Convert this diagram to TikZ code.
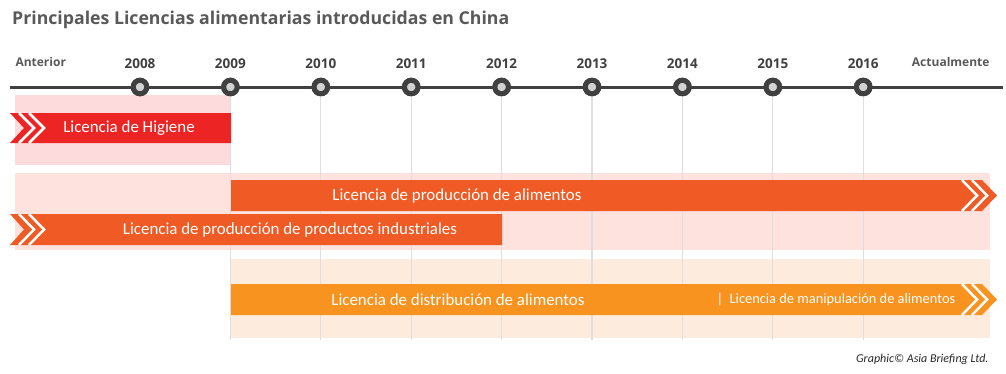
\documentclass[tikz,border=0pt]{standalone}
\usepackage{fontspec}
\setmainfont{Carlito}
\newfontfamily\headfont{Open Sans}
\definecolor{lineGray}{RGB}{64,64,64}
\definecolor{dotGray}{RGB}{210,210,210}
\definecolor{gridGray}{RGB}{222,222,222}
\definecolor{titleGray}{RGB}{89,89,89}
\definecolor{hygRed}{RGB}{237,36,36}
\definecolor{prodOrange}{RGB}{240,90,36}
\definecolor{distOrange}{RGB}{247,147,30}
\definecolor{bandA}{RGB}{253,219,221}
\definecolor{bandB}{RGB}{253,226,222}
\definecolor{bandC}{RGB}{253,236,221}

\begin{document}
\begin{tikzpicture}[x=1pt,y=-1pt,
  yearmark/.style={circle,draw=lineGray,line width=5pt,fill=dotGray,
    inner sep=0pt,minimum size=13.5pt},
  yearlab/.style={font=\headfont\bfseries\fontsize{13.5}{15}\selectfont,
    text=lineGray,anchor=base},
  endlab/.style={font=\headfont\bfseries\fontsize{12}{14}\selectfont,
    text=titleGray,anchor=base west},
  barlab/.style={font=\fontsize{16.9}{19}\selectfont,text=white},
  cut/.style={white,line width=2.5pt}]
  \useasboundingbox (0,0) rectangle (1006,373);

  % title
  \node[font=\headfont\bfseries\fontsize{17.7}{20}\selectfont,text=titleGray,
    anchor=base west,inner sep=0pt] (title) at (12,24)
    {Principales Licencias alimentarias introducidas en China};

  % background bands
  \fill[bandA] (15,95) rectangle (231,165);
  \fill[bandB] (15,173) rectangle (990,250);
  \fill[bandC] (231,259) rectangle (990,338);

  % timeline
  \coordinate (tl0) at (10,87);
  \coordinate (tl1) at (1003,87);
  \draw[lineGray,line width=3pt] (tl0) -- (tl1);
  \foreach \yr [count=\i from 0] in {2008,...,2016}{
    \node[yearmark] (c\yr) at (140+90.4*\i,87) {};
    \node[yearlab] (y\yr) at (140+90.4*\i,68) {\yr};
  }
  \foreach \yr in {2009,...,2016}
    \draw[gridGray,line width=1.3pt] (c\yr.south) -- ++(0,244);
  \foreach \yr in {2008,...,2016}
    \node[yearmark] at (c\yr) {};
  \node[endlab] (ante) at (12,66) {Anterior};
  \node[endlab,anchor=base east] (actu) at (993,66) {Actualmente};

  % Licencia de Higiene
  \fill[hygRed] (10,113) -- (231,113) -- (231,143) -- (10,143) -- (24,128) -- cycle;
  \draw[cut] (19,113) -- (34,128) -- (19,143);
  \draw[cut] (29,113) -- (44,128) -- (29,143);
  \node[barlab] (hyg) at (129,128) {Licencia de Higiene};

  % produccion de alimentos
  \fill[prodOrange] (231,180) -- (982,180) -- (997,195.5) -- (982,211) -- (231,211) -- cycle;
  \draw[cut] (972,180) -- (987,195.5) -- (972,211);
  \draw[cut] (962,180) -- (977,195.5) -- (962,211);
  \node[barlab] (prod) at (457,195.5) {Licencia de producción de alimentos};

  % productos industriales
  \fill[prodOrange] (10,214) -- (502,214) -- (502,245) -- (10,245) -- (24,229.5) -- cycle;
  \draw[cut] (19,214) -- (34,229.5) -- (19,245);
  \draw[cut] (29,214) -- (44,229.5) -- (29,245);
  \node[barlab] (indu) at (290,229.5) {Licencia de producción de productos industriales};

  % distribucion / manipulacion
  \fill[distOrange] (231,284) -- (982,284) -- (997,299.5) -- (982,315) -- (231,315) -- cycle;
  \draw[cut] (972,284) -- (987,299.5) -- (972,315);
  \draw[cut] (962,284) -- (977,299.5) -- (962,315);
  \node[barlab] (dist) at (458,299.5) {Licencia de distribución de alimentos};
  \node[barlab,font=\fontsize{14.4}{16}\selectfont,anchor=west] (mani) at (713,299)
    {|\ \ Licencia de manipulación de alimentos};

  % credit
  \node[font=\itshape\fontsize{12}{13}\selectfont,text=black!85,anchor=base east]
    (cred) at (992,362) {Graphic© Asia Briefing Ltd.};
\end{tikzpicture}
\end{document}
